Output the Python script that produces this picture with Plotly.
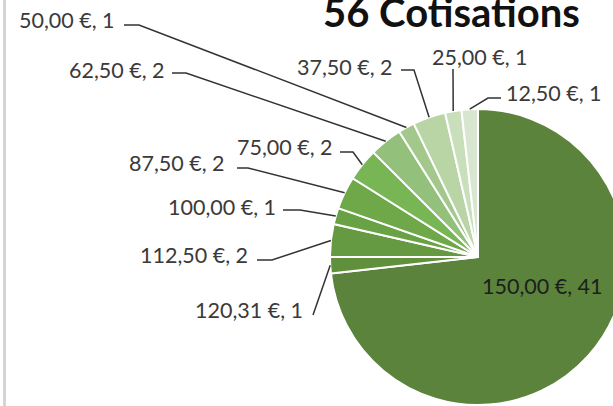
import math
import plotly.graph_objects as go

# ---- data ----
prices = ["150,00 €", "120,31 €", "112,50 €", "100,00 €", "87,50 €", "75,00 €",
          "62,50 €", "50,00 €", "37,50 €", "25,00 €", "12,50 €"]
counts = [41, 1, 2, 1, 2, 2, 2, 1, 2, 1, 1]
title_text = "56 Cotisations"

# ---- styling ----
slice_colors = ["#5b833b", "#61903d", "#659a42", "#69a145", "#6ea849", "#78b554",
                "#93c07a", "#a3c88c", "#b9d5a6", "#c9dfbb", "#d8e6cf"]

W, H = 630, 406            # figure size in px (right part falls outside the window)
CX, CY, R = 478, 257, 148  # pie centre / radius in px

# label layout: (text right edge x, text centre y, knee points of leader line)
label_layout = [
    (605, 286, None),                          # 150,00 (inside)
    (305, 310, [(313, 315)]),                  # 120,31
    (250, 255, [(257, 260), (272, 260)]),      # 112,50
    (278, 207, [(283, 210), (300, 210)]),      # 100,00
    (227, 163, [(237, 168), (248, 168)]),      # 87,50
    (335, 147, [(340, 152), (353, 152)]),      # 75,00
    (167, 70, [(172, 73), (186, 73)]),         # 62,50
    (117, 20, [(124, 25), (139, 25)]),         # 50,00
    (395, 67, [(401, 70), (414, 70)]),         # 37,50
    (530, 57, [(453, 69)]),                    # 25,00
    (604, 93, [(501, 98), (488, 98)]),         # 12,50
]
FONT = "Lato, 'Open Sans', sans-serif"
label_font = dict(family=FONT, size=21.5, color="#3a3a3a")
inside_font = dict(family=FONT, size=21.5, color="#1e1e1e")


def px_x(x):
    return x / W


def px_y(y):
    return 1 - y / H


total = sum(counts)
mids = []
cum = 0
for c in counts:
    mids.append((cum + c / 2) / total * 2 * math.pi)
    cum += c

fig = go.Figure()
fig.add_trace(go.Pie(
    labels=prices, values=counts, sort=False, direction="clockwise", rotation=0,
    marker=dict(colors=slice_colors, line=dict(color="white", width=2)),
    textinfo="none", hoverinfo="label+value", showlegend=False,
    domain=dict(x=[px_x(CX - R), px_x(CX + R)], y=[px_y(CY + R), px_y(CY - R)]),
))

annotations = []
shapes = []
for i, (p, c) in enumerate(zip(prices, counts)):
    rx, cy, knees = label_layout[i]
    text = f"{p}, {c}"
    annotations.append(dict(text=text, x=px_x(rx), y=px_y(cy), xref="paper", yref="paper",
                            xanchor="right", yanchor="middle", showarrow=False,
                            font=inside_font if knees is None else label_font))
    if knees is None:
        continue
    ex = CX + R * math.sin(mids[i])
    ey = CY - R * math.cos(mids[i])
    pts = list(knees) + [(ex, ey)]
    path = "M " + " L ".join(f"{px_x(x):.5f},{px_y(y):.5f}" for x, y in pts)
    shapes.append(dict(type="path", path=path, xref="paper", yref="paper",
                       line=dict(color="#333333", width=1.5)))

annotations.append(dict(text="<b>" + title_text + "</b>", x=px_x(451), y=px_y(11.5), xref="paper", yref="paper",
                        xanchor="center", yanchor="middle", showarrow=False,
                        font=dict(family=FONT, size=40, color="#111111")))

# chart frame edge on the left
shapes.append(dict(type="rect", xref="paper", yref="paper", x0=px_x(3), x1=px_x(6), y0=0, y1=1,
                   fillcolor="#d4d4d4", line=dict(width=0)))

fig.update_layout(
    width=W, height=H, margin=dict(l=0, r=0, t=0, b=0),
    paper_bgcolor="white", plot_bgcolor="white",
    annotations=annotations, shapes=shapes,
)
fig.write_html(
    "out.html",
    config={"displayModeBar": False},
    post_script="document.body.style.margin='0';document.body.style.overflow='hidden';"
                "document.documentElement.style.overflow='hidden';",
)
